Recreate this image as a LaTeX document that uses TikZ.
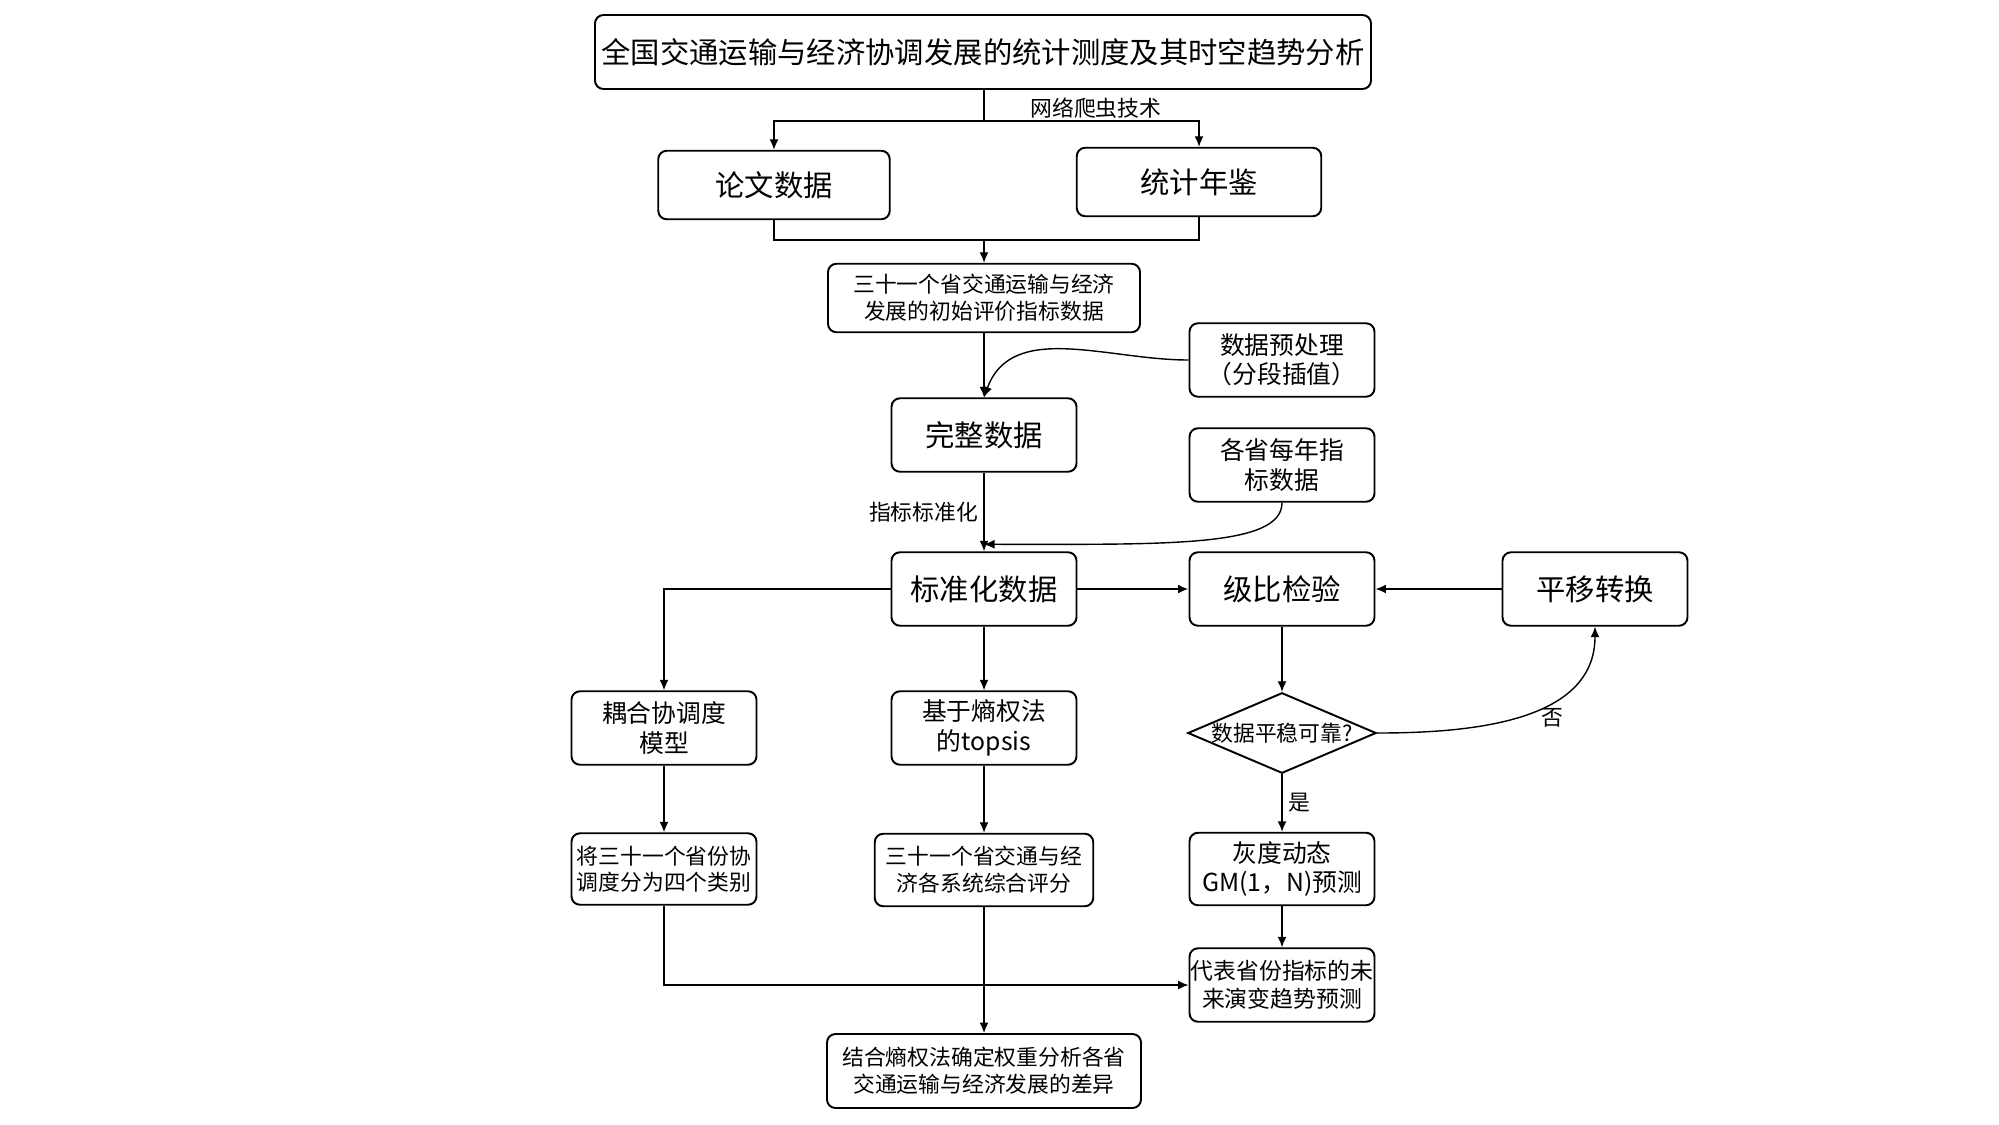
\documentclass[tikz,border=0pt]{standalone}
\usepackage{fontspec}
\setmainfont{Noto Sans CJK SC}
\usetikzlibrary{arrows.meta,shapes.geometric}
\newcommand\bigfs{\fontsize{16.7pt}{20pt}\selectfont}
\newcommand\midfs{\fontsize{14.1pt}{16.7pt}\selectfont}
\newcommand\smallfs{\fontsize{12.4pt}{15.2pt}\selectfont}
\begin{document}
\begin{tikzpicture}[x=0.2mm,y=-0.2mm,>={Latex[length=2.1mm,width=1.8mm]},
    box/.style={draw,line width=1.1pt,rounded corners=1.7mm,align=center,inner sep=0pt,
      minimum width=37mm,minimum height=14.7mm},
    bigbox/.style={box,font=\bigfs},
    midbox/.style={box,font=\midfs},
    smallbox/.style={box,font=\smallfs},
    test/.style={draw,line width=1.1pt,diamond,aspect=2.34,inner sep=0pt,font=\smallfs},
    link/.style={line width=0.8pt}]
      \useasboundingbox (0,0) rectangle (1999,1124);
      % boxes
      \node[bigbox,minimum width=155.2mm,minimum height=14.8mm] (title) at (983,52) {全国交通运输与经济协调发展的统计测度及其时空趋势分析};
      \node[bigbox,minimum width=46.3mm,minimum height=13.7mm] (paper) at (774,185) {论文数据};
      \node[bigbox,minimum width=48.9mm,minimum height=13.7mm] (yearbook) at (1199,182) {统计年鉴};
      \node[smallbox,minimum width=62.4mm,minimum height=13.7mm] (init) at (984,298) {三十一个省交通运输与经济\\发展的初始评价指标数据};
      \node[midbox] (prep) at (1282,360) {数据预处理\\（分段插值）};
      \node[bigbox] (complete) at (984,435) {完整数据};
      \node[midbox] (yearly) at (1282,465) {各省每年指\\标数据};
      \node[bigbox] (std) at (984,589) {标准化数据};
      \node[bigbox] (grade) at (1282,589) {级比检验};
      \node[bigbox] (shift) at (1595,589) {平移转换};
      \node[midbox] (coupling) at (664,728) {耦合协调度\\模型};
      \node[midbox] (topsis) at (984,728) {基于熵权法\\的topsis};
      \node[test] (stable) at (1282,733) {数据平稳可靠?};
      \node[box,font=\fontsize{12.4pt}{14.6pt}\selectfont,minimum height=14.3mm] (classes) at (664,869) {将三十一个省份协\\调度分为四个类别};
      \node[smallbox,minimum width=43.7mm,minimum height=14.5mm] (scores) at (984,870) {三十一个省交通与经\\济各系统综合评分};
      \node[midbox,minimum height=14.5mm] (gm) at (1282,869) {灰度动态\\GM(1，N)预测};
      \node[midbox,font=\fontsize{13pt}{15.9pt}\selectfont] (future) at (1282,985) {代表省份指标的未\\来演变趋势预测};
      \node[smallbox,minimum width=62.8mm,minimum height=14.8mm] (combine) at (984,1071) {结合熵权法确定权重分析各省\\交通运输与经济发展的差异};
      \coordinate (split) at (984,121);
      \coordinate (merge) at (984,240);
      % connectors
      \begin{scope}[link]
        \draw (title.south -| split) -- (split);
        \draw[->] (split) -| (paper);
        \draw[->] (split) -| node[pos=0.26,above,font=\smallfs,inner sep=1pt] {网络爬虫技术} (yearbook);
        \draw (paper) |- (merge);
        \draw (yearbook) |- (merge);
        \draw[->] (merge) -- (init);
        \draw[->] (init) -- (complete);
        \draw[->] (prep.west) to[out=180,in=70] (complete.north);
        \draw[->] (complete) -- node[left,font=\smallfs,inner sep=3pt] {指标标准化} (std);
        \draw[->] (yearly.south) .. controls +(0,45) and +(180,0) .. ([yshift=1.4mm]std.north);
        \draw[->,line width=1.2pt] (std) -- (grade);
        \draw[->] (shift) -- (grade);
        \draw[->] (std) -| (coupling);
        \draw[->] (std) -- (topsis);
        \draw[->] (grade) -- (stable);
        \draw[->] (stable.east) to[out=0,in=-90] node[pos=0.58,anchor=north west,font=\smallfs,inner sep=0pt] {否} (shift.south);
        \draw[->] (stable) -- node[right,font=\smallfs] {是} (gm);
        \draw[->] (gm) -- (future);
        \draw[->] (coupling) -- (classes);
        \draw[->] (topsis) -- (scores);
        \draw[->] (scores) -- (combine);
        \draw[->] (classes) |- (future);
      \end{scope}
    \end{tikzpicture}
\end{document}
